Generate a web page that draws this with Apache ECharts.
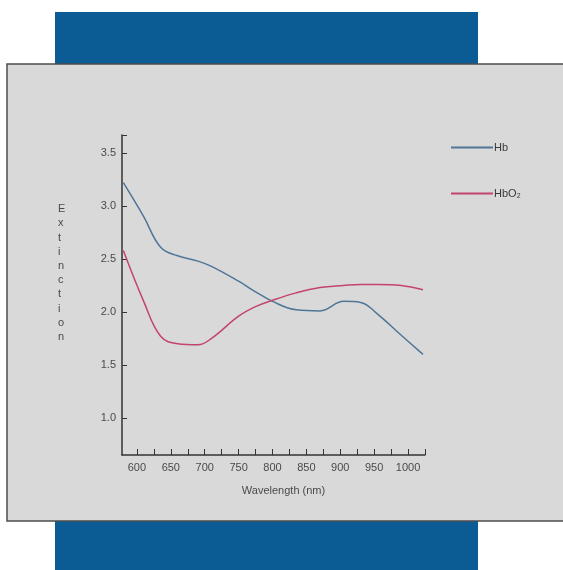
<!DOCTYPE html>
<html lang="en">
<head>
    <meta charset="UTF-8">
    <title>extinction</title>
    <script src="https://cdn.jsdelivr.net/npm/echarts@6.0.0/dist/echarts.min.js"></script>
    <style>
        html, body { margin: 0; padding: 0; background: #fff; }
    </style>
</head>
<body>
<div id="main" style="width: 563px;height:570px;"></div>
<script>
    // wavelength (nm) and extinction
    var wavelengths = [580, 610, 635, 660, 690, 710, 750, 775, 800, 835, 870, 905, 930, 955, 990, 1022];
    var hb   = [3.22, 2.90, 2.61, 2.53, 2.48, 2.43, 2.29, 2.19, 2.10, 2.02, 2.01, 2.10, 2.09, 1.98, 1.78, 1.60];
    var hbo2 = [2.58, 2.10, 1.77, 1.70, 1.69, 1.75, 1.96, 2.05, 2.11, 2.18, 2.23, 2.25, 2.26, 2.26, 2.25, 2.21];
    var seriesNames = ['Hb', 'HbO\u2082'];
    var yTicks = [1.0, 1.5, 2.0, 2.5, 3.0, 3.5];
    var xTicks = [600, 625, 650, 675, 700, 725, 750, 775, 800, 825, 850, 875, 900, 925, 950, 975, 1000, 1025];
    var xLabels = [600, 650, 700, 750, 800, 850, 900, 950, 1000];

    function pairs(xs, ys) {
        var out = [];
        for (var i = 0; i < xs.length; i++) out.push([xs[i], ys[i]]);
        return out;
    }

    var chart = echarts.init(document.getElementById('main'));
    var labelStyle = {color: '#4a4a4a', fontSize: 11, fontFamily: 'Liberation Sans'};

    var option = {
        backgroundColor: '#ffffff',
        animation: false,
        graphic: [
            // blue band behind the grey panel
            {type: 'rect', z: -10, shape: {x: 55, y: 12, width: 423, height: 560},
                style: {fill: '#0b5b94'}},
            {type: 'rect', z: -9, shape: {x: 7, y: 64, width: 570, height: 457},
                style: {fill: '#d9d9d9', stroke: '#4d4d4d', lineWidth: 1.5}},
            {type: 'text', z: 5, left: 58, top: 202,
                style: {text: 'Extinction'.split('').join('\n'), fill: '#4a4a4a',
                    font: '11px Liberation Sans', lineHeight: 14.2, align: 'center'}}
        ],
        grid: {left: 122, right: 138, top: 135, bottom: 115},
        legend: {
            orient: 'vertical',
            left: 446,
            top: 137,
            itemGap: 35,
            itemWidth: 42,
            itemHeight: 2,
            icon: 'rect',
            textStyle: {color: '#3a3a3a', fontSize: 11, fontFamily: 'Liberation Sans', padding: [0, 0, 0, -4]},
            data: seriesNames
        },
        xAxis: {
            type: 'value',
            min: 578,
            max: 1025,
            name: 'Wavelength (nm)',
            nameLocation: 'middle',
            nameGap: 30,
            nameTextStyle: {color: '#4a4a4a', fontSize: 11, fontFamily: 'Liberation Sans', padding: [0, 0, 0, 20]},
            axisLine: {show: true, lineStyle: {color: '#333', width: 1.5}},
            axisTick: {show: true, inside: true, length: 6, customValues: xTicks,
                lineStyle: {color: '#333', width: 1}},
            axisLabel: Object.assign({customValues: xLabels, margin: 7,
                formatter: function (v) { return String(v); }}, labelStyle),
            splitLine: {show: false}
        },
        yAxis: {
            type: 'value',
            min: 0.65,
            max: 3.67,
            axisLine: {show: true, lineStyle: {color: '#333', width: 1.5}},
            axisTick: {show: true, inside: true, length: 5, customValues: yTicks.concat([3.67]),
                lineStyle: {color: '#333', width: 1}},
            axisLabel: Object.assign({customValues: yTicks, margin: 6,
                formatter: function (v) { return v.toFixed(1); }}, labelStyle),
            splitLine: {show: false}
        },
        series: [
            {
                name: seriesNames[0],
                type: 'line',
                smooth: 0.4,
                showSymbol: false,
                symbol: 'none',
                color: '#4f7699',
                lineStyle: {width: 1.5},
                data: pairs(wavelengths, hb)
            },
            {
                name: seriesNames[1],
                type: 'line',
                smooth: 0.4,
                showSymbol: false,
                symbol: 'none',
                color: '#c4446d',
                lineStyle: {width: 1.5},
                data: pairs(wavelengths, hbo2)
            }
        ]
    };
    chart.setOption(option);
</script>
</body>
</html>
